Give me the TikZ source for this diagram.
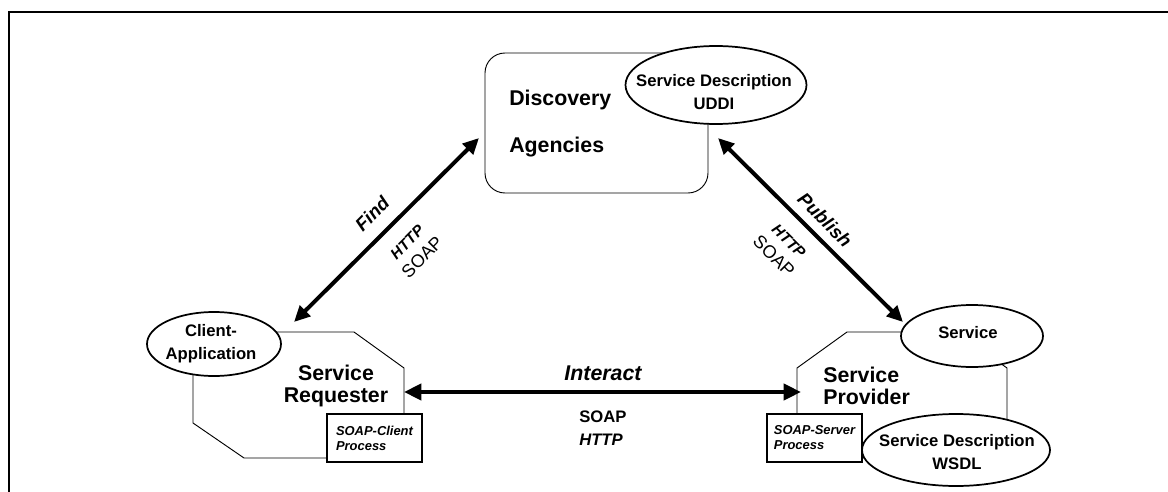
\documentclass[tikz,border=0pt]{standalone}
\usepackage{fontspec}
\setmainfont{Liberation Sans}
\usetikzlibrary{arrows.meta}
\usetikzlibrary{shapes.geometric}
\tikzset{
	outline/.style={line width=1.5pt},
	hull/.style={line width=0.7pt},
	bubble/.style={ellipse, draw, fill=white, line width=1.3pt, inner sep=0pt},
	bubble text/.style={font=\fontsize{12.5}{17}\selectfont\bfseries, align=center, inner sep=0pt},
	procbox/.style={draw, fill=white, line width=1.5pt, minimum width=71.25pt, minimum height=36pt,
		inner sep=0pt, align=left, font=\fontsize{9.7}{11.3}\selectfont\bfseries\itshape},
	role/.style={font=\fontsize{16}{17}\selectfont\bfseries, inner sep=0pt},
	link/.style={line width=3pt, >={Triangle[length=12pt, width=11pt]}, <->},
	verb/.style={font=\fontsize{14}{17}\selectfont\bfseries\itshape, inner sep=0pt},
	proto/.style={align=center, inner sep=0pt, font=\fontsize{13.5}{16.5}\selectfont}
}
\newcommand{\httpword}{{\fontsize{11.5}{16.5}\selectfont\bfseries\itshape HTTP}}

\begin{document}
\begin{tikzpicture}[x=0.75pt, y=-0.75pt]
	\useasboundingbox (0,0) rectangle (1168,492);
	\draw[outline] (9,492) -- (9,12) -- (1168,12);

	% discovery agencies with the UDDI registry
	\draw[hull, rounded corners=15pt] (485,53) rectangle (708,193);
	\node[role, anchor=base west] (disc) at (509,106) {Discovery};
	\node[role, anchor=base west] (agen) at (509,152) {Agencies};
	\node[bubble, minimum width=135.75pt, minimum height=58.5pt] (uddi) at (716,85) {};
	\node[bubble text] (uddi label) at (714,92) {Service Description\\UDDI};

	% requester side
	\draw[hull] (244,332) -- (354,332) -- (404,368) -- (404,423) -- (354,458) -- (244,458) -- (193,423) -- (193,368) -- cycle;
	\node[role, align=center] (req) at (336,386) {Service\\Requester};
	\node[bubble, minimum width=100.5pt, minimum height=48pt] (client) at (214,344) {};
	\node[bubble text] (client label) at (211,344) {Client-\\Application};
	\node[procbox] (client proc) at (374.5,438) {SOAP-Client\\Process};

	% provider side
	\draw[hull] (847,332) -- (957,332) -- (1007,368) -- (1007,423) -- (957,458) -- (847,458) -- (797,423) -- (797,368) -- cycle;
	\node[role, align=left, anchor=west] (prov) at (823,386) {Service\\Provider};
	\node[bubble, minimum width=106.5pt, minimum height=46.5pt] (service) at (972,336) {};
	\node[bubble text] (service label) at (968,333) {Service};
	\node[procbox] (server proc) at (814.5,438) {SOAP-Server\\Process};
	\node[bubble, minimum width=141pt, minimum height=54pt] (wsdl) at (956,450) {};
	\node[bubble text] (wsdl label) at (957,452) {Service Description\\WSDL};

	% arrow ends
	\coordinate (find a) at (294,322);
	\coordinate (find b) at (479,138);
	\coordinate (pub a) at (903,322);
	\coordinate (pub b) at (718,138);
	\coordinate (req east) at (404,392);
	\coordinate (prov west) at (801,392);

	\draw[link] (find a) -- (find b);
	\node[verb, rotate=45] (find) at (372,214) {Find};
	\node[proto, rotate=45] (find proto) at (415,250) {\httpword\\SOAP};

	\draw[link] (pub a) -- (pub b);
	\node[verb, rotate=-45] (publish) at (825,220) {Publish};
	\node[proto, rotate=-45] (pub proto) at (781,249) {\httpword\\SOAP};

	\draw[link, >={Triangle[length=13pt, width=12pt]}] (req east) -- (prov west);
	\node[verb, font=\fontsize{16}{17}\selectfont\bfseries\itshape, anchor=base] (interact) at (603,380) {Interact};
	\node[anchor=west, align=left, inner sep=0pt, font=\fontsize{12.5}{17}\selectfont\bfseries] (interact proto) at (579,428.5) {SOAP\\\textit{HTTP}};
\end{tikzpicture}
\end{document}
